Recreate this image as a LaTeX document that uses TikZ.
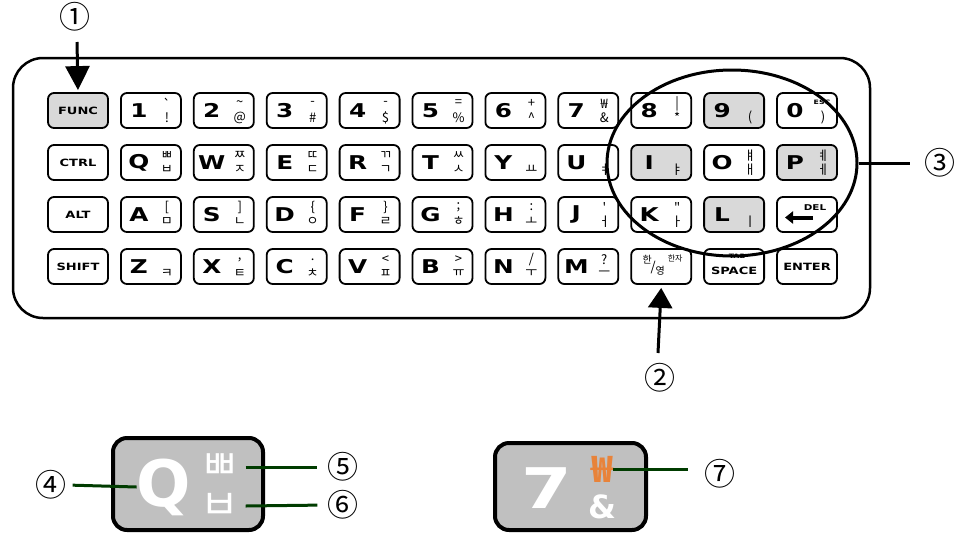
\documentclass[tikz,border=0pt]{standalone}
\usepackage{fontspec}
\setmainfont{DejaVu Sans}
\newfontfamily\kr{Noto Sans CJK KR}
\newfontfamily\wide{DejaVu Sans}[FakeStretch=1.3]
\usetikzlibrary{shapes.geometric,arrows.meta}
\definecolor{keygray}{HTML}{D9D9D9}
\definecolor{biggray}{HTML}{C0C0C0}
\definecolor{lgreen}{RGB}{0,60,0}
\definecolor{wonorange}{HTML}{E8833A}
\tikzset{
 kbd/.style={draw, line width=1.8pt, rounded corners=6pt, minimum width=60pt, minimum height=35pt, inner sep=0pt, fill=white},
 gk/.style={kbd, fill=keygray},
 mainl/.style={font=\wide\bfseries\fontsize{19}{19}\selectfont, inner sep=0pt},
 sym/.style={font=\kr\fontsize{13}{13}\selectfont, inner sep=0pt},
 ctl/.style={font=\wide\bfseries\fontsize{10}{10}\selectfont},
 tinyl/.style={font=\wide\bfseries\fontsize{6}{6}\selectfont, inner sep=0pt},
 num/.style={font=\kr\fontsize{31}{31}\selectfont, inner sep=0pt},
 blackarrow/.style={line width=3pt, -{Triangle[length=24pt,width=24pt]}},
 gline/.style={draw=lgreen, line width=3pt},
 bigkey/.style={draw, line width=4pt, rounded corners=14pt, fill=biggray, inner sep=0pt},
 bigw/.style={font=\wide\bfseries\fontsize{56}{56}\selectfont, text=white, inner sep=0pt},
 bigk/.style={font=\kr\fontsize{42}{42}\selectfont, text=white, inner sep=0pt},
}
% #1 name, #2 col, #3 row, #4 style, #5 main, #6 upper, #7 lower
\newcommand\skey[7]{%
 \node[#4] (#1) at ({78+72.9*#2},{110.5+52*#3}) {};
 \node[mainl] (#1m) at ([xshift=-12pt]#1.center) {#5};
 \node[sym] (#1u) at ([xshift=16pt,yshift=7pt]#1.center) {#6};
 \node[sym] (#1l) at ([xshift=16pt,yshift=-7pt]#1.center) {#7};
}
\newcommand\ckey[5]{%
 \node[#4, ctl] (#1) at ({78+72.9*#2},{110.5+52*#3}) {#5};
}
\begin{document}
\begin{tikzpicture}[x=1pt,y=-1pt]
\useasboundingbox (0,0) rectangle (960,533);
\node[draw, line width=2.5pt, rounded corners=30pt, minimum width=857pt, minimum height=260pt] (board) at (441.5,188) {};
% row 0
\ckey{func}{0}{0}{gk}{FUNC}
\skey{k1}{1}{0}{kbd}{1}{`}{!}
\skey{k2}{2}{0}{kbd}{2}{\textasciitilde}{@}
\skey{k3}{3}{0}{kbd}{3}{-}{\#}
\skey{k4}{4}{0}{kbd}{4}{-}{\$}
\skey{k5}{5}{0}{kbd}{5}{=}{\%}
\skey{k6}{6}{0}{kbd}{6}{+}{\textasciicircum}
\skey{k7}{7}{0}{kbd}{7}{₩}{\&}
\skey{k8}{8}{0}{kbd}{8}{|}{*}
\skey{k9}{9}{0}{gk}{9}{}{(}
\skey{k0}{10}{0}{kbd}{0}{}{)}
\node[tinyl] (esc) at ([xshift=15pt,yshift=8pt]k0.center) {ESC};
% row 1
\ckey{ctrl}{0}{1}{kbd}{CTRL}
\skey{q}{1}{1}{kbd}{Q}{ㅃ}{ㅂ}
\skey{w}{2}{1}{kbd}{W}{ㅉ}{ㅈ}
\skey{e}{3}{1}{kbd}{E}{ㄸ}{ㄷ}
\skey{r}{4}{1}{kbd}{R}{ㄲ}{ㄱ}
\skey{t}{5}{1}{kbd}{T}{ㅆ}{ㅅ}
\skey{y}{6}{1}{kbd}{Y}{}{ㅛ}
\skey{u}{7}{1}{kbd}{U}{}{ㅕ}
\skey{i}{8}{1}{gk}{I}{}{ㅑ}
\skey{o}{9}{1}{kbd}{O}{ㅒ}{ㅐ}
\skey{p}{10}{1}{gk}{P}{ㅖ}{ㅔ}
% row 2
\ckey{alt}{0}{2}{kbd}{ALT}
\skey{a}{1}{2}{kbd}{A}{[}{ㅁ}
\skey{s}{2}{2}{kbd}{S}{]}{ㄴ}
\skey{d}{3}{2}{kbd}{D}{\{}{ㅇ}
\skey{f}{4}{2}{kbd}{F}{\}}{ㄹ}
\skey{g}{5}{2}{kbd}{G}{;}{ㅎ}
\skey{h}{6}{2}{kbd}{H}{:}{ㅗ}
\skey{j}{7}{2}{kbd}{J}{'}{ㅓ}
\skey{k}{8}{2}{kbd}{K}{"}{ㅏ}
\skey{l}{9}{2}{gk}{L}{}{ㅣ}
\node[kbd] (del) at ({78+72.9*10},{110.5+52*2}) {};
\node[tinyl, font=\wide\bfseries\fontsize{8}{8}\selectfont] (delt) at ([xshift=8pt,yshift=7pt]del.center) {DEL};
\coordinate (dels) at ([xshift=6pt,yshift=-3pt]del.center);
\coordinate (dele) at ([xshift=-22pt,yshift=-3pt]del.center);
\draw[line width=4pt, -{Triangle[length=8pt,width=12pt]}] (dels) -- (dele);
% row 3
\ckey{shift}{0}{3}{kbd}{SHIFT}
\skey{z}{1}{3}{kbd}{Z}{}{ㅋ}
\skey{x}{2}{3}{kbd}{X}{,}{ㅌ}
\skey{c}{3}{3}{kbd}{C}{.}{ㅊ}
\skey{v}{4}{3}{kbd}{V}{<}{ㅍ}
\skey{b}{5}{3}{kbd}{B}{>}{ㅠ}
\skey{n}{6}{3}{kbd}{N}{/}{ㅜ}
\skey{m}{7}{3}{kbd}{M}{?}{ㅡ}
\node[kbd] (hy) at ({78+72.9*8},{110.5+52*3}) {};
\node[sym, font=\kr\fontsize{10}{10}\selectfont] (hy1) at ([xshift=-14pt,yshift=7pt]hy.center) {한};
\node[sym] (hy2) at ([xshift=-8pt,yshift=-1pt]hy.center) {/};
\node[sym, font=\kr\fontsize{10}{10}\selectfont] (hy3) at ([xshift=-1pt,yshift=-4pt]hy.center) {영};
\node[sym, font=\kr\fontsize{8}{8}\selectfont] (hy4) at ([xshift=14pt,yshift=8pt]hy.center) {한자};
\node[kbd] (tab) at ({78+72.9*9},{110.5+52*3}) {};
\node[tinyl] (tabt) at ([xshift=3pt,yshift=10pt]tab.center) {TAB};
\node[tinyl, font=\wide\bfseries\fontsize{10}{10}\selectfont] (spc) at ([yshift=-4pt]tab.center) {SPACE};
\ckey{enter}{10}{3}{kbd}{ENTER}
% highlight ellipse
\node[draw, ellipse, line width=3pt, minimum width=250pt, minimum height=186pt] (ell) at (732,163) {};
% labels
\node[num] (c1) at (75,17) {①};
\node[num] (c2) at (660,378) {②};
\node[num] (c3) at (940,163) {③};
\coordinate (a1) at (77,42);
\draw[blackarrow] (a1) -- ([yshift=2pt]func.north);
\coordinate (a2) at (658,353);
\draw[blackarrow, -{Triangle[length=20pt,width=24pt]}] (a2) -- ([yshift=-3pt]hy.south);
\draw[line width=3pt] (ell.east) -- ([xshift=-14pt]c3.west);
% enlarged keys
\node[bigkey, minimum width=150pt, minimum height=92pt] (bigq) at (188,484) {};
\node[bigw, font=\bfseries\fontsize{64}{64}\selectfont] (bq) at (164,487) {Q};
\node[bigk] (bpp) at (220,467) {ㅃ};
\node[bigk] (bp) at (220,506) {ㅂ};
\node[bigkey, minimum width=151pt, minimum height=87pt] (big7) at (570.5,486.5) {};
\node[bigw] (b7) at (547,488) {7};
\node[font=\kr\bfseries\fontsize{36}{36}\selectfont, text=wonorange, inner sep=0pt] (bwon) at (602,469) {₩};
\node[font=\bfseries\fontsize{32}{32}\selectfont, text=white, inner sep=0pt] (bamp) at (602,507) {\&};
\node[num] (c4) at (51,485) {④};
\node[num] (c5) at (343,467) {⑤};
\node[num] (c6) at (343,505) {⑥};
\node[num] (c7) at (720,474) {⑦};
\draw[gline, shorten <=6pt] (c4.east) -- (bq.west);
\draw[gline, shorten >=10pt] ([xshift=6pt]bpp.east) -- (c5.west);
\draw[gline, shorten >=10pt] ([xshift=6pt]bp.east) -- (c6.west);
\draw[gline, shorten >=16pt] (bwon.east) -- (c7.west |- bwon.east);
\end{tikzpicture}
\end{document}
